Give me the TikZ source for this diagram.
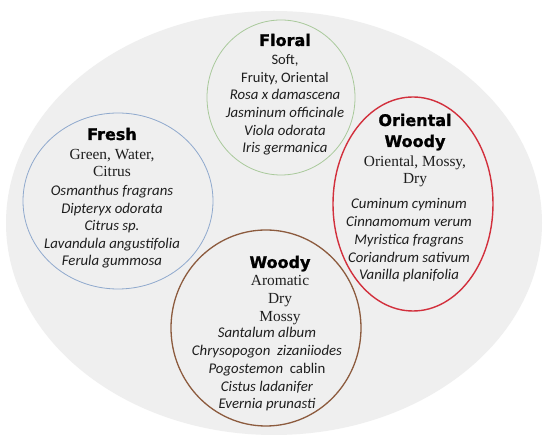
\documentclass[tikz,border=0pt]{standalone}
\usepackage{fontspec}
\setmainfont{Liberation Serif}
\newfontfamily\headfont{DejaVu Sans}[BoldFeatures={FakeBold=1.2}]
\newfontfamily\specfont{Carlito}
\usetikzlibrary{positioning}
\definecolor{bgcol}{HTML}{EFEFEF}
\definecolor{txtcol}{HTML}{1E1E1E}
\definecolor{floralcol}{HTML}{A9C99B}
\definecolor{freshcol}{HTML}{8FA9CD}
\definecolor{orientcol}{HTML}{D22F3C}
\definecolor{woodycol}{HTML}{8C5B3E}

\begin{document}
\begin{tikzpicture}[
  x=1pt, y=-1pt,
  headtxt/.style={font=\headfont\bfseries\fontsize{16}{19}\selectfont, anchor=base, inner sep=0pt, text=black},
  desctxt/.style={font=\fontsize{15.4}{18}\selectfont, anchor=base, inner sep=0pt, text=txtcol},
  softtxt/.style={font=\specfont\fontsize{14.5}{17}\selectfont, anchor=base, inner sep=0pt, text=txtcol},
  spectxt/.style={font=\specfont\itshape\fontsize{14.8}{17}\selectfont, anchor=base, inner sep=0pt, text=txtcol}
]
\useasboundingbox[fill=white] (0,0) rectangle (550,443);
\fill[bgcol] (274,223) ellipse (268pt and 212pt);

% the four families
\draw[floralcol, line width=0.8pt] (281,97.5) ellipse (74pt and 77.5pt);
\draw[freshcol, line width=0.8pt] (118,201) ellipse (95pt and 88pt);
\draw[orientcol, line width=1.4pt] (413,204) ellipse (80pt and 107pt);
\draw[woodycol, line width=1.3pt] (266,328) ellipse (95pt and 98pt);

% Floral
\node[headtxt] (floral-h) at (285,46) {Floral};
\foreach \t [count=\i] in {{Soft,}, {Fruity, Oriental}}
  \node[softtxt] (floral-d\i) at (285,{65+17.6*(\i-1)}) {\t};
\foreach \t [count=\i] in {Rosa x damascena, Jasminum officinale, Viola odorata, Iris germanica}
  \node[spectxt] (floral-s\i) at (285,{100+17.6*(\i-1)}) {\t};

% Fresh
\node[headtxt] (fresh-h) at (112,140) {Fresh};
\foreach \t [count=\i] in {{Green, Water,}, Citrus}
  \node[desctxt] (fresh-d\i) at (112,{160+17*(\i-1)}) {\t};
\foreach \t [count=\i] in {Osmanthus fragrans, Dipteryx odorata, Citrus sp., Lavandula angustifolia, Ferula gummosa}
  \node[spectxt] (fresh-s\i) at (112,{196+17.5*(\i-1)}) {\t};

% Oriental Woody
\node[headtxt] (orient-h1) at (415,126) {Oriental};
\node[headtxt] (orient-h2) at (415,147) {Woody};
\foreach \t [count=\i] in {{Oriental, Mossy,}, Dry}
  \node[desctxt] (orient-d\i) at (415,{167+17*(\i-1)}) {\t};
\foreach \t [count=\i] in {Cuminum cyminum, Cinnamomum verum, Myristica fragrans, Coriandrum sativum, Vanilla planifolia}
  \node[spectxt] (orient-s\i) at (409,{209+17.75*(\i-1)}) {\t};

% Woody
\node[headtxt] (woody-h) at (280,268) {Woody};
\foreach \t [count=\i] in {Aromatic, Dry, Mossy}
  \node[desctxt] (woody-d\i) at (280,{286+18*(\i-1)}) {\t};
\foreach \t [count=\i] in {Santalum album, Chrysopogon\ \ zizaniiodes, Pogostemon\ \ \upshape cablin, Cistus ladanifer, Evernia prunasti}
  \node[spectxt] (woody-s\i) at (267,{338+17.75*(\i-1)}) {\t};
\end{tikzpicture}
\end{document}
